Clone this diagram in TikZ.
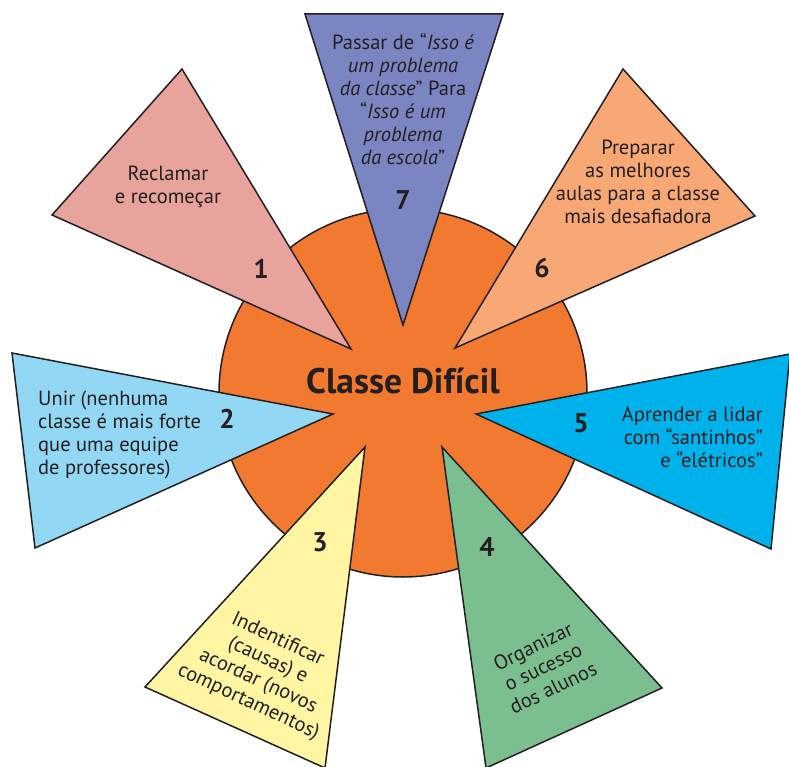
\documentclass[tikz,border=0pt]{standalone}
\usepackage{fontspec}
\setmainfont{PT Sans}
\usetikzlibrary{positioning}

\definecolor{ink}{HTML}{231F20}
\definecolor{hub}{HTML}{F27930}
\definecolor{rosa}{HTML}{E8A39C}
\definecolor{roxo}{HTML}{7B85C2}
\definecolor{pessego}{HTML}{F7A874}
\definecolor{celeste}{HTML}{92D8F5}
\definecolor{amarelo}{HTML}{FFF5A3}
\definecolor{verde}{HTML}{7BBF90}
\definecolor{azul}{HTML}{00B2EC}

\begin{document}
\begin{tikzpicture}[x=1pt, y=-1pt, line join=miter,
			tri/.style={draw=ink, line width=1.5pt},
			lbl/.style={text=ink, align=center, inner sep=0pt, font=\fontsize{20.5}{23}\selectfont},
			num/.style={text=ink, inner sep=0pt, font=\fontsize{27}{30}\selectfont\bfseries}]
			\useasboundingbox (0,0) rectangle (789,767);
			% miolo
			\draw[tri, fill=hub] (403,393) circle[radius=184];
			% pontas
			\draw[tri, fill=rosa] (182,69) -- (52,215) -- (351,349) -- cycle;
			\draw[tri, fill=roxo] (305,14) -- (503,14) -- (403,325) -- cycle;
			\draw[tri, fill=pessego] (623,69) -- (755,216) -- (455,348) -- cycle;
			\draw[tri, fill=celeste] (12,353) -- (333,414) -- (35,548) -- cycle;
			\draw[tri, fill=azul] (790,354) -- (476,414) -- (771,549) -- cycle;
			\draw[tri, fill=amarelo] (365,447) -- (145,687) -- (325,768) -- cycle;
			\draw[tri, fill=verde] (442,447) -- (662,688) -- (486,768) -- cycle;
			\node[text=ink, inner sep=0pt, font=\fontsize{35.5}{40}\selectfont\bfseries] (title) at (403,381) {Classe Difícil};
			% textos
			\node[lbl] (lbl1) at (168,187) {Reclamar\\e recomeçar};
			\node[lbl] (lbl2) [anchor=west, align=left] at (38,435) {Unir (nenhuma\\classe é mais forte\\que uma equipe\\de professores)};
			\node[lbl, rotate=-25] (lbl3) at (263,671) {Indentificar\\(causas) e\\acordar (novos\\comportamentos)};
			\node[lbl, rotate=26] (lbl4) at (543,667) {Organizar\\o sucesso\\dos alunos};
			\node[lbl] (lbl5) [anchor=east, align=right] at (763,437) {Aprender a lidar\\com “santinhos”\\e “elétricos”};
			\node[lbl] (lbl6) at (638,182) {Preparar\\as melhores\\aulas para a classe\\mais desafiadora};
			\node[lbl] (lbl7) at (403,99) {Passar de “\textit{Isso é}\\\textit{um problema}\\\textit{da classe}” Para\\“\textit{Isso é um}\\\textit{problema}\\\textit{da escola}”};
			\node[num] (num1) at (261,269) {1};
			\node[num] (num2) at (227,419) {2};
			\node[num] (num3) at (320,542) {3};
			\node[num] (num4) at (487,547) {4};
			\node[num] (num5) at (581,423) {5};
			\node[num] (num6) at (542,268) {6};
			\node[num] (num7) at (403,200) {7};
		\end{tikzpicture}
\end{document}
